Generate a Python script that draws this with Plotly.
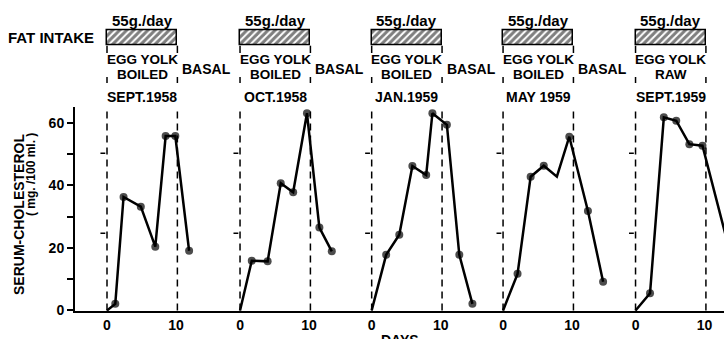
import plotly.graph_objects as go

# ---------------- data ----------------
periods = ["SEPT.1958", "OCT.1958", "JAN.1959", "MAY 1959", "SEPT.1959"]
preparation = ["BOILED", "BOILED", "BOILED", "BOILED", "RAW"]
basal_after = [True, True, True, True, False]
fat_intake_label = "55g./day"

days_sep58 = [0, 1.2, 2.4, 4.9, 7.0, 8.5, 9.9, 11.9]
chol_sep58 = [0, 2.1, 36.3, 33.2, 20.4, 55.8, 55.8, 19.1]
mark_sep58 = [0, 1, 1, 1, 1, 1, 1, 1]

days_oct58 = [0, 1.7, 4.0, 5.9, 7.7, 9.7, 11.5, 13.3]
chol_oct58 = [0, 15.9, 15.7, 40.7, 37.8, 63.1, 26.5, 18.9]
mark_oct58 = [0, 1, 1, 1, 1, 1, 1, 1]

days_jan59 = [0, 2.1, 4.0, 5.9, 7.9, 8.8, 10.9, 12.7, 14.6]
chol_jan59 = [0, 17.8, 24.2, 46.2, 43.3, 63.1, 59.4, 17.8, 2.1]
mark_jan59 = [0, 1, 1, 1, 1, 1, 1, 1, 1]

days_may59 = [0, 2.1, 4.0, 5.9, 7.8, 9.6, 12.3, 14.5]
chol_may59 = [0, 11.7, 42.8, 46.3, 42.8, 55.6, 31.8, 9.2]
mark_may59 = [0, 1, 1, 1, 0, 1, 1, 1]

days_sep59 = [0, 2.1, 4.1, 5.9, 7.8, 9.7, 14.0]
chol_sep59 = [0, 5.5, 61.8, 60.7, 53.2, 52.7, 16.0]
mark_sep59 = [0, 1, 1, 1, 1, 1, 1]

period_end_day = 10.2
x_tick_days = [0, 10]
x_tick_text = ["0", "10"]
y_tick_values = [0, 10, 20, 30, 40, 50, 60]
y_tick_text = ["0", "", "20", "", "40", "", "60"]

# ---------------- layout constants ----------------
PANEL_OFFSET = [0, 19.28, 38.36, 57.4, 76.6]
W, H = 724, 339
ML, MB = 75, 28
PLOT_H = H - MB          # plot area from px 0 to 311
PLOT_W = W - ML
X_MIN = -(107 - ML) / 6.9
X_MAX = X_MIN + PLOT_W / 6.9
INK = "#000000"
FONT = "Liberation Sans"


def py(p):
    """pixel row -> paper y"""
    return (PLOT_H - p) / PLOT_H


def px(p):
    """pixel column -> paper x"""
    return (p - ML) / PLOT_W


series = [
    (days_sep58, chol_sep58, mark_sep58),
    (days_oct58, chol_oct58, mark_oct58),
    (days_jan59, chol_jan59, mark_jan59),
    (days_may59, chol_may59, mark_may59),
    (days_sep59, chol_sep59, mark_sep59),
]

fig = go.Figure()

for off, (d, c, m) in zip(PANEL_OFFSET, series):
    fig.add_trace(go.Scatter(
        x=[off + v for v in d], y=c, mode="lines+markers",
        line=dict(color=INK, width=2.5),
        marker=dict(color=INK, size=[8 if k else 0 for k in m], line=dict(width=0)),
        showlegend=False, hoverinfo="skip", cliponaxis=True,
    ))

# hatched fat-intake bars (on a header axis)
fig.add_trace(go.Bar(
    orientation="h", y=[0] * len(PANEL_OFFSET), x=[period_end_day] * len(PANEL_OFFSET),
    base=PANEL_OFFSET, width=1.256, yaxis="y2",
    marker=dict(color="white", line=dict(color=INK, width=1.5),
                pattern=dict(shape="/", fgcolor=INK, bgcolor="white", size=5, solidity=0.6)),
    showlegend=False, hoverinfo="skip",
))

shapes = []
annotations = []
for i, off in enumerate(PANEL_OFFSET):
    for xd in (off, off + period_end_day):
        # dashed period lines
        shapes.append(dict(type="line", xref="x", yref="y", x0=xd, x1=xd, y0=0, y1=63.8,
                           line=dict(color=INK, width=1.5, dash="7px,5px")))
        # bar side legs
        shapes.append(dict(type="line", xref="x", yref="paper", x0=xd, x1=xd,
                           y0=py(53), y1=py(45.7), line=dict(color=INK, width=1.5)))
        # small ticks above dates
        shapes.append(dict(type="line", xref="x", yref="paper", x0=xd, x1=xd,
                           y0=py(83), y1=py(77), line=dict(color=INK, width=1.5)))
    # little marks left of the day-0 line
    for yv in (50.3, 24.7):
        shapes.append(dict(type="line", xref="x", yref="y", x0=off - 0.95, x1=off - 0.25,
                           y0=yv, y1=yv, line=dict(color=INK, width=1.5)))

    mid = off + period_end_day / 2
    for txt, p, size in ((fat_intake_label, 20, 15), ("EGG YOLK", 60, 13.5),
                         (preparation[i], 74.5, 13.5), (periods[i], 97, 14)):
        annotations.append(dict(text=txt, xref="x", yref="paper", x=mid, y=py(p),
                                xanchor="center", yanchor="middle", showarrow=False,
                                borderpad=0,
                                font=dict(family=FONT, size=size, color=INK, weight="bold")))
    if basal_after[i]:
        annotations.append(dict(text="BASAL", xref="x", yref="paper", x=off + 14.4, y=py(69),
                                xanchor="center", yanchor="middle", showarrow=False,
                                font=dict(family=FONT, size=14, color=INK, weight="bold")))

annotations.append(dict(text="FAT INTAKE", xref="paper", yref="paper", x=px(51), y=py(37),
                        xanchor="center", yanchor="middle", showarrow=False,
                        font=dict(family=FONT, size=15, color=INK, weight="bold")))
annotations.append(dict(text="SERUM-CHOLESTEROL", xref="paper", yref="paper", x=px(19), y=py(215),
                        xanchor="center", yanchor="middle", showarrow=False, textangle=-90,
                        font=dict(family=FONT, size=14, color=INK, weight="bold")))
annotations.append(dict(text="( mg. /100 ml. )", xref="paper", yref="paper", x=px(31), y=py(175),
                        xanchor="center", yanchor="middle", showarrow=False, textangle=-90,
                        font=dict(family=FONT, size=12, color=INK, weight="bold")))
annotations.append(dict(text="DAYS", xref="paper", yref="paper", x=0.5, y=py(330),
                        xanchor="center", yanchor="top", showarrow=False,
                        font=dict(family=FONT, size=14, color=INK, weight="bold")))

tickvals_x = [off + d for off in PANEL_OFFSET for d in x_tick_days]
ticktext_x = [t for _ in PANEL_OFFSET for t in x_tick_text]

fig.update_layout(
    width=W, height=H,
    margin=dict(l=ML, r=0, t=0, b=MB, pad=0),
    paper_bgcolor="white", plot_bgcolor="white",
    font=dict(family=FONT, size=14, color=INK),
    shapes=shapes, annotations=annotations,
    xaxis=dict(range=[X_MIN, X_MAX], showgrid=False, zeroline=False,
               showline=True, linecolor=INK, linewidth=2,
               tickvals=tickvals_x, ticktext=ticktext_x, ticks="",
               tickfont=dict(family=FONT, size=14, color=INK, weight="bold"),
               anchor="y", fixedrange=True),
    yaxis=dict(domain=[0, py(107)], range=[-0.18, 65.1], showgrid=False, zeroline=False,
               showline=True, linecolor=INK, linewidth=2,
               tickvals=y_tick_values, ticktext=y_tick_text,
               ticks="outside", ticklen=6, tickwidth=1.5, tickcolor=INK,
               tickfont=dict(family=FONT, size=14, color=INK, weight="bold"),
               anchor="x", fixedrange=True),
    yaxis2=dict(domain=[py(50.35), py(25.35)], range=[-1, 1], visible=False,
                anchor="x", fixedrange=True),
    bargap=0,
)

fig.write_html("out.html")
